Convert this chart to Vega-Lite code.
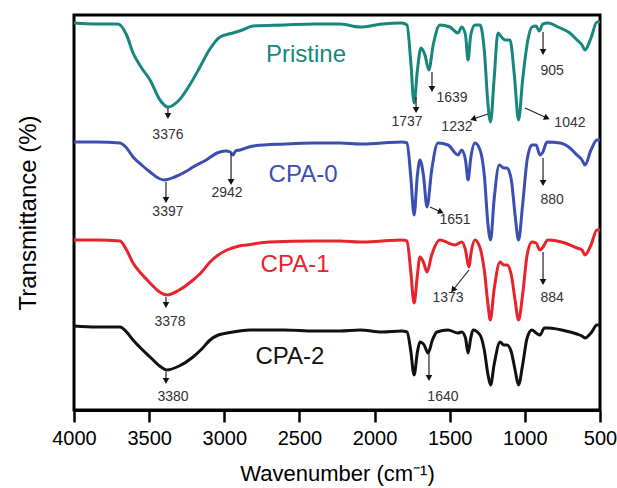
{
  "$schema": "https://vega.github.io/schema/vega-lite/v6.json",
  "width": 526,
  "height": 395,
  "autosize": {"type": "none"},
  "padding": {"left": 74, "top": 15, "right": 17, "bottom": 78},
  "config": {
    "view": {"stroke": "black", "strokeWidth": 3},
    "font": "Liberation Sans"
  },
  "datasets": {
    "spectra": [
      {"s":"Pristine","w":4000,"t":387},{"s":"Pristine","w":3850,"t":386},{"s":"Pristine","w":3707,"t":386},{"s":"Pristine","w":3650,"t":375},{"s":"Pristine","w":3607,"t":357},{"s":"Pristine","w":3550,"t":342},{"s":"Pristine","w":3494,"t":330},{"s":"Pristine","w":3428,"t":310},{"s":"Pristine","w":3375,"t":303},{"s":"Pristine","w":3300,"t":310},{"s":"Pristine","w":3230,"t":325},{"s":"Pristine","w":3162,"t":343},{"s":"Pristine","w":3100,"t":360},{"s":"Pristine","w":3028,"t":373},{"s":"Pristine","w":2942,"t":377},{"s":"Pristine","w":2880,"t":380},{"s":"Pristine","w":2809,"t":384},{"s":"Pristine","w":2600,"t":385},{"s":"Pristine","w":2400,"t":386},{"s":"Pristine","w":2230,"t":386},{"s":"Pristine","w":2097,"t":383},{"s":"Pristine","w":1950,"t":386},{"s":"Pristine","w":1820,"t":387},{"s":"Pristine","w":1784,"t":385},{"s":"Pristine","w":1760,"t":350},{"s":"Pristine","w":1737,"t":307},{"s":"Pristine","w":1715,"t":340},{"s":"Pristine","w":1691,"t":362},{"s":"Pristine","w":1665,"t":355},{"s":"Pristine","w":1639,"t":340},{"s":"Pristine","w":1610,"t":365},{"s":"Pristine","w":1565,"t":385},{"s":"Pristine","w":1500,"t":383},{"s":"Pristine","w":1445,"t":377},{"s":"Pristine","w":1420,"t":383},{"s":"Pristine","w":1395,"t":375},{"s":"Pristine","w":1378,"t":350},{"s":"Pristine","w":1360,"t":375},{"s":"Pristine","w":1332,"t":385},{"s":"Pristine","w":1298,"t":385},{"s":"Pristine","w":1270,"t":360},{"s":"Pristine","w":1245,"t":305},{"s":"Pristine","w":1228,"t":288},{"s":"Pristine","w":1205,"t":330},{"s":"Pristine","w":1179,"t":377},{"s":"Pristine","w":1150,"t":372},{"s":"Pristine","w":1132,"t":370},{"s":"Pristine","w":1099,"t":370},{"s":"Pristine","w":1070,"t":335},{"s":"Pristine","w":1042,"t":290},{"s":"Pristine","w":1015,"t":330},{"s":"Pristine","w":980,"t":370},{"s":"Pristine","w":953,"t":383},{"s":"Pristine","w":925,"t":384},{"s":"Pristine","w":905,"t":379},{"s":"Pristine","w":880,"t":386},{"s":"Pristine","w":846,"t":387},{"s":"Pristine","w":780,"t":383},{"s":"Pristine","w":700,"t":377},{"s":"Pristine","w":653,"t":370},{"s":"Pristine","w":620,"t":365},{"s":"Pristine","w":600,"t":360},{"s":"Pristine","w":560,"t":372},{"s":"Pristine","w":520,"t":388},{"s":"Pristine","w":500,"t":388},
      {"s":"CPA-0","w":4000,"t":268},{"s":"CPA-0","w":3850,"t":268},{"s":"CPA-0","w":3694,"t":267},{"s":"CPA-0","w":3650,"t":262},{"s":"CPA-0","w":3607,"t":253},{"s":"CPA-0","w":3550,"t":245},{"s":"CPA-0","w":3494,"t":238},{"s":"CPA-0","w":3440,"t":232},{"s":"CPA-0","w":3400,"t":230},{"s":"CPA-0","w":3330,"t":233},{"s":"CPA-0","w":3250,"t":239},{"s":"CPA-0","w":3208,"t":243},{"s":"CPA-0","w":3120,"t":250},{"s":"CPA-0","w":3048,"t":257},{"s":"CPA-0","w":2990,"t":259},{"s":"CPA-0","w":2960,"t":258},{"s":"CPA-0","w":2942,"t":255},{"s":"CPA-0","w":2925,"t":259},{"s":"CPA-0","w":2895,"t":260},{"s":"CPA-0","w":2809,"t":264},{"s":"CPA-0","w":2600,"t":266},{"s":"CPA-0","w":2400,"t":267},{"s":"CPA-0","w":2230,"t":267},{"s":"CPA-0","w":2097,"t":266},{"s":"CPA-0","w":1950,"t":267},{"s":"CPA-0","w":1820,"t":268},{"s":"CPA-0","w":1784,"t":267},{"s":"CPA-0","w":1760,"t":235},{"s":"CPA-0","w":1737,"t":195},{"s":"CPA-0","w":1715,"t":235},{"s":"CPA-0","w":1698,"t":250},{"s":"CPA-0","w":1675,"t":235},{"s":"CPA-0","w":1651,"t":203},{"s":"CPA-0","w":1620,"t":240},{"s":"CPA-0","w":1578,"t":267},{"s":"CPA-0","w":1511,"t":265},{"s":"CPA-0","w":1445,"t":255},{"s":"CPA-0","w":1420,"t":260},{"s":"CPA-0","w":1395,"t":250},{"s":"CPA-0","w":1378,"t":230},{"s":"CPA-0","w":1360,"t":252},{"s":"CPA-0","w":1332,"t":267},{"s":"CPA-0","w":1298,"t":260},{"s":"CPA-0","w":1270,"t":235},{"s":"CPA-0","w":1245,"t":185},{"s":"CPA-0","w":1228,"t":170},{"s":"CPA-0","w":1205,"t":210},{"s":"CPA-0","w":1170,"t":245},{"s":"CPA-0","w":1140,"t":242},{"s":"CPA-0","w":1119,"t":242},{"s":"CPA-0","w":1090,"t":230},{"s":"CPA-0","w":1065,"t":195},{"s":"CPA-0","w":1042,"t":170},{"s":"CPA-0","w":1015,"t":205},{"s":"CPA-0","w":985,"t":250},{"s":"CPA-0","w":953,"t":265},{"s":"CPA-0","w":925,"t":265},{"s":"CPA-0","w":900,"t":255},{"s":"CPA-0","w":880,"t":258},{"s":"CPA-0","w":853,"t":268},{"s":"CPA-0","w":766,"t":267},{"s":"CPA-0","w":700,"t":262},{"s":"CPA-0","w":653,"t":255},{"s":"CPA-0","w":620,"t":250},{"s":"CPA-0","w":600,"t":245},{"s":"CPA-0","w":560,"t":260},{"s":"CPA-0","w":520,"t":270},{"s":"CPA-0","w":500,"t":270},
      {"s":"CPA-1","w":4000,"t":170},{"s":"CPA-1","w":3850,"t":170},{"s":"CPA-1","w":3694,"t":169},{"s":"CPA-1","w":3650,"t":160},{"s":"CPA-1","w":3607,"t":147},{"s":"CPA-1","w":3550,"t":136},{"s":"CPA-1","w":3494,"t":127},{"s":"CPA-1","w":3430,"t":118},{"s":"CPA-1","w":3380,"t":115},{"s":"CPA-1","w":3300,"t":120},{"s":"CPA-1","w":3208,"t":130},{"s":"CPA-1","w":3150,"t":138},{"s":"CPA-1","w":3095,"t":148},{"s":"CPA-1","w":3040,"t":155},{"s":"CPA-1","w":2982,"t":160},{"s":"CPA-1","w":2900,"t":164},{"s":"CPA-1","w":2849,"t":165},{"s":"CPA-1","w":2700,"t":168},{"s":"CPA-1","w":2400,"t":169},{"s":"CPA-1","w":2230,"t":169},{"s":"CPA-1","w":2097,"t":168},{"s":"CPA-1","w":1950,"t":169},{"s":"CPA-1","w":1820,"t":170},{"s":"CPA-1","w":1784,"t":169},{"s":"CPA-1","w":1760,"t":140},{"s":"CPA-1","w":1737,"t":107},{"s":"CPA-1","w":1715,"t":135},{"s":"CPA-1","w":1698,"t":153},{"s":"CPA-1","w":1675,"t":148},{"s":"CPA-1","w":1651,"t":138},{"s":"CPA-1","w":1620,"t":155},{"s":"CPA-1","w":1565,"t":170},{"s":"CPA-1","w":1465,"t":165},{"s":"CPA-1","w":1420,"t":168},{"s":"CPA-1","w":1395,"t":160},{"s":"CPA-1","w":1373,"t":143},{"s":"CPA-1","w":1355,"t":160},{"s":"CPA-1","w":1332,"t":170},{"s":"CPA-1","w":1298,"t":162},{"s":"CPA-1","w":1270,"t":140},{"s":"CPA-1","w":1245,"t":105},{"s":"CPA-1","w":1230,"t":90},{"s":"CPA-1","w":1205,"t":120},{"s":"CPA-1","w":1165,"t":148},{"s":"CPA-1","w":1140,"t":145},{"s":"CPA-1","w":1119,"t":145},{"s":"CPA-1","w":1090,"t":135},{"s":"CPA-1","w":1065,"t":110},{"s":"CPA-1","w":1042,"t":90},{"s":"CPA-1","w":1015,"t":115},{"s":"CPA-1","w":985,"t":155},{"s":"CPA-1","w":953,"t":168},{"s":"CPA-1","w":925,"t":167},{"s":"CPA-1","w":900,"t":160},{"s":"CPA-1","w":884,"t":162},{"s":"CPA-1","w":846,"t":170},{"s":"CPA-1","w":733,"t":167},{"s":"CPA-1","w":653,"t":162},{"s":"CPA-1","w":620,"t":160},{"s":"CPA-1","w":600,"t":155},{"s":"CPA-1","w":560,"t":165},{"s":"CPA-1","w":520,"t":180},{"s":"CPA-1","w":500,"t":180},
      {"s":"CPA-2","w":4000,"t":84},{"s":"CPA-2","w":3850,"t":83},{"s":"CPA-2","w":3694,"t":83},{"s":"CPA-2","w":3650,"t":78},{"s":"CPA-2","w":3607,"t":70},{"s":"CPA-2","w":3550,"t":61},{"s":"CPA-2","w":3494,"t":53},{"s":"CPA-2","w":3430,"t":44},{"s":"CPA-2","w":3385,"t":40},{"s":"CPA-2","w":3300,"t":44},{"s":"CPA-2","w":3208,"t":53},{"s":"CPA-2","w":3150,"t":61},{"s":"CPA-2","w":3095,"t":70},{"s":"CPA-2","w":3040,"t":75},{"s":"CPA-2","w":2982,"t":77},{"s":"CPA-2","w":2900,"t":79},{"s":"CPA-2","w":2829,"t":80},{"s":"CPA-2","w":2600,"t":80},{"s":"CPA-2","w":2400,"t":79},{"s":"CPA-2","w":2230,"t":79},{"s":"CPA-2","w":2097,"t":80},{"s":"CPA-2","w":1950,"t":78},{"s":"CPA-2","w":1820,"t":79},{"s":"CPA-2","w":1784,"t":78},{"s":"CPA-2","w":1760,"t":60},{"s":"CPA-2","w":1737,"t":35},{"s":"CPA-2","w":1715,"t":58},{"s":"CPA-2","w":1698,"t":68},{"s":"CPA-2","w":1670,"t":65},{"s":"CPA-2","w":1644,"t":57},{"s":"CPA-2","w":1615,"t":70},{"s":"CPA-2","w":1585,"t":78},{"s":"CPA-2","w":1511,"t":80},{"s":"CPA-2","w":1445,"t":77},{"s":"CPA-2","w":1420,"t":78},{"s":"CPA-2","w":1395,"t":72},{"s":"CPA-2","w":1378,"t":57},{"s":"CPA-2","w":1360,"t":72},{"s":"CPA-2","w":1345,"t":80},{"s":"CPA-2","w":1298,"t":75},{"s":"CPA-2","w":1270,"t":60},{"s":"CPA-2","w":1245,"t":35},{"s":"CPA-2","w":1228,"t":25},{"s":"CPA-2","w":1205,"t":45},{"s":"CPA-2","w":1165,"t":68},{"s":"CPA-2","w":1140,"t":65},{"s":"CPA-2","w":1119,"t":65},{"s":"CPA-2","w":1090,"t":58},{"s":"CPA-2","w":1065,"t":40},{"s":"CPA-2","w":1042,"t":25},{"s":"CPA-2","w":1015,"t":45},{"s":"CPA-2","w":985,"t":72},{"s":"CPA-2","w":953,"t":80},{"s":"CPA-2","w":925,"t":77},{"s":"CPA-2","w":899,"t":75},{"s":"CPA-2","w":870,"t":82},{"s":"CPA-2","w":846,"t":82},{"s":"CPA-2","w":700,"t":78},{"s":"CPA-2","w":653,"t":76},{"s":"CPA-2","w":620,"t":74},{"s":"CPA-2","w":600,"t":72},{"s":"CPA-2","w":560,"t":77},{"s":"CPA-2","w":520,"t":85},{"s":"CPA-2","w":500,"t":85}
    ],
    "names": [
      {"s":"Pristine","w":2456,"t":348},
      {"s":"CPA-0","w":2476,"t":228},
      {"s":"CPA-1","w":2529,"t":138},
      {"s":"CPA-2","w":2563,"t":46}
    ],
    "peaks": [
      {"label":"3376","lx":3375,"ly":275,"x1":3375,"y1":302,"x2":3375,"y2":294},
      {"label":"1737","lx":1784,"ly":288,"x1":1724,"y1":313,"x2":1724,"y2":300},
      {"label":"1639","lx":1485,"ly":312,"x1":1618,"y1":338,"x2":1618,"y2":321},
      {"label":"1232","lx":1452,"ly":283,"x1":1245,"y1":296,"x2":1345,"y2":291},
      {"label":"1042","lx":700,"ly":287,"x1":999,"y1":302,"x2":853,"y2":292},
      {"label":"905","lx":819,"ly":339,"x1":879,"y1":378,"x2":879,"y2":358},
      {"label":"3397","lx":3375,"ly":198,"x1":3388,"y1":228,"x2":3388,"y2":210},
      {"label":"2942","lx":2982,"ly":217,"x1":2955,"y1":257,"x2":2955,"y2":228},
      {"label":"1651","lx":1465,"ly":190,"x1":1631,"y1":203,"x2":1558,"y2":198},
      {"label":"880","lx":819,"ly":210,"x1":879,"y1":252,"x2":879,"y2":227},
      {"label":"3378","lx":3361,"ly":88,"x1":3388,"y1":113,"x2":3388,"y2":105},
      {"label":"1373","lx":1511,"ly":112,"x1":1372,"y1":140,"x2":1478,"y2":120},
      {"label":"884","lx":819,"ly":112,"x1":879,"y1":158,"x2":879,"y2":128},
      {"label":"3380","lx":3341,"ly":13,"x1":3388,"y1":38,"x2":3388,"y2":29},
      {"label":"1640","lx":1545,"ly":13,"x1":1638,"y1":57,"x2":1638,"y2":32}
    ]
  },
  "layer": [
    {
      "data": {"name": "spectra"},
      "mark": {"type": "line", "strokeWidth": 3, "interpolate": "monotone"},
      "encoding": {
        "x": {
          "field": "w", "type": "quantitative",
          "scale": {"domain": [500, 4000], "reverse": true, "nice": false, "zero": false},
          "axis": {
            "title": "Wavenumber (cm⁻¹)",
            "values": [4000, 3500, 3000, 2500, 2000, 1500, 1000, 500],
            "format": "d",
            "grid": false,
            "domainColor": "black", "domainWidth": 3,
            "tickColor": "black", "tickWidth": 2.5, "tickSize": 12,
            "labelFont": "Liberation Sans", "labelFontSize": 20, "labelColor": "black",
            "labelPadding": 6, "labelFlush": false, "labelOverlap": false,
            "titleFont": "Liberation Sans", "titleFontSize": 22, "titleFontWeight": "normal",
            "titleColor": "black", "titlePadding": 15
          }
        },
        "y": {
          "field": "t", "type": "quantitative",
          "scale": {"domain": [0, 395], "nice": false, "zero": false},
          "axis": {
            "title": "Transmittance (%)",
            "labels": false, "ticks": false, "grid": false, "domain": false,
            "titleFont": "Liberation Sans", "titleFontSize": 24, "titleFontWeight": "normal",
            "titleColor": "black", "titlePadding": 34
          }
        },
        "color": {
          "field": "s", "type": "nominal",
          "scale": {"domain": ["Pristine", "CPA-0", "CPA-1", "CPA-2"], "range": ["#17877d", "#3b4fb3", "#e8232b", "#111111"]},
          "legend": null
        },
        "detail": {"field": "s"}
      }
    },
    {
      "data": {"name": "names"},
      "mark": {"type": "text", "fontSize": 24, "font": "Liberation Sans", "align": "center", "baseline": "alphabetic"},
      "encoding": {
        "x": {"field": "w", "type": "quantitative"},
        "y": {"field": "t", "type": "quantitative"},
        "text": {"field": "s"},
        "color": {"field": "s", "type": "nominal", "legend": null}
      }
    },
    {
      "data": {"name": "peaks"},
      "mark": {"type": "rule", "color": "#222222", "strokeWidth": 1.2},
      "encoding": {
        "x": {"field": "x1", "type": "quantitative"},
        "x2": {"field": "x2"},
        "y": {"field": "y1", "type": "quantitative"},
        "y2": {"field": "y2"}
      }
    },
    {
      "data": {"name": "peaks"},
      "transform": [
        {"calculate": "atan2((datum.x1 - datum.x2) * 526 / 3500, datum.y2 - datum.y1) * 180 / PI", "as": "ang"}
      ],
      "mark": {"type": "point", "shape": "triangle-up", "filled": true, "size": 45, "color": "#111111", "opacity": 1},
      "encoding": {
        "x": {"field": "x2", "type": "quantitative"},
        "y": {"field": "y2", "type": "quantitative"},
        "angle": {"field": "ang", "type": "quantitative", "scale": null}
      }
    },
    {
      "data": {"name": "peaks"},
      "mark": {"type": "text", "fontSize": 14, "font": "Liberation Sans", "color": "#333333", "align": "center", "baseline": "middle"},
      "encoding": {
        "x": {"field": "lx", "type": "quantitative"},
        "y": {"field": "ly", "type": "quantitative"},
        "text": {"field": "label"}
      }
    }
  ]
}
